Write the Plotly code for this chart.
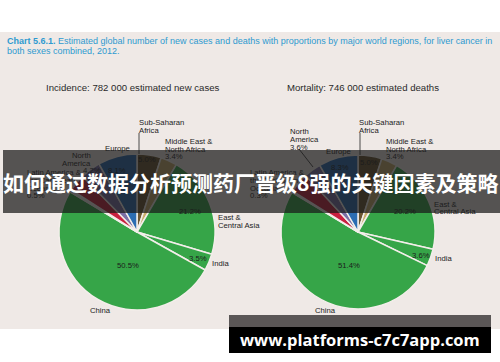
import plotly.graph_objects as go

W, H = 500, 362

# ---- data ----
regions = ["Sub-Saharan Africa", "Middle East & North Africa", "East & Central Asia",
           "India", "China", "Oceania", "Latin America & the Caribbean",
           "North America", "Europe"]
incidence_pct = [5.0, 3.4, 21.2, 3.5, 50.5, 0.5, 3.6, 4.2, 8.1]
mortality_pct = [5.0, 3.4, 20.2, 3.6, 51.4, 0.3, 4.2, 3.6, 8.3]
slice_colors = ["#6b5632", "#c9ae6c", "#36a548", "#36a548", "#36a548",
                "#e9e4e2", "#c8203f", "#7b70a6", "#2c6db2"]
incidence_title = "Incidence: 782 000 estimated new cases"
mortality_title = "Mortality: 746 000 estimated deaths"
caption_bold = "Chart 5.6.1."
caption_rest = " Estimated global number of new cases and deaths with proportions by major world regions, for liver cancer in"
caption_line2 = "both sexes combined, 2012."
banner_text = "如何通过数据分析预测药厂晋级8强的关键因素及策略"
watermark_text = "www.platforms-c7c7app.com"

BG = "#efe9e6"
TXT = "#1c1c1c"
FONT = "Liberation Sans, Arial, sans-serif"


def px(x):
    return x / W


def py(y):
    return 1 - y / H


fig = go.Figure()

def add_pie(values, cx, cy, r):
    fig.add_trace(go.Pie(
        labels=regions, values=values, sort=False, direction="clockwise",
        rotation=0, marker=dict(colors=slice_colors, line=dict(color="#f3eeea", width=1.5)),
        textinfo="none", hoverinfo="label+percent", showlegend=False,
        domain=dict(x=[px(cx - r), px(cx + r)], y=[py(cy + r), py(cy - r)]),
    ))

add_pie(incidence_pct, 137, 232, 78)
add_pie(mortality_pct, 358, 232, 77)

shapes = []
annotations = []

# background panel
shapes.append(dict(type="rect", xref="paper", yref="paper", x0=0, x1=1,
                   y0=py(329), y1=py(32), fillcolor=BG, line=dict(width=0), layer="below"))


def txt(x, y, s, anchor="left", size=7.7, color=TXT, bold=False, family=FONT):
    annotations.append(dict(x=px(x), y=py(y), xref="paper", yref="paper",
                            text=f"<b>{s}</b>" if bold else s, showarrow=False,
                            xanchor=anchor, yanchor="middle",
                            font=dict(size=size, color=color, family=family)))


def lines(x, y0, items, anchor="left", step=8):
    for i, s in enumerate(items):
        txt(x, y0 + i * step, s, anchor)


def pct(v):
    return f"{v:.1f}%"


inc = dict(zip(regions, incidence_pct))
mor = dict(zip(regions, mortality_pct))

# caption
txt(5, 41, f"<b>{caption_bold}</b>{caption_rest}", size=9.0, color="#2e9ad0")
txt(5, 51, caption_line2, size=9.0, color="#2e9ad0")

# titles
txt(133, 87, incidence_title, anchor="center", size=9.6, color="#2a2a2a")
txt(363, 87, mortality_title, anchor="center", size=9.6, color="#2a2a2a")

# ---- left pie labels ----
lines(137, 122, ["Sub-Saharan", "Africa"])
lines(163, 141, ["Middle East &", "North Africa", pct(inc["Middle East & North Africa"])])
txt(117, 148, "Europe", anchor="center")
lines(93, 155, ["North", "America"], anchor="right")
lines(25, 172, ["Latin America &", "the Caribbean", "Oceania", pct(inc["Oceania"])])
txt(147, 159, pct(inc["Sub-Saharan Africa"]), anchor="center")
txt(117, 171, pct(inc["Europe"]), anchor="center")
txt(92, 171, pct(inc["North America"]), anchor="center")
txt(190, 212, pct(inc["East & Central Asia"]), anchor="center")
lines(216, 217, ["East &", "Central Asia"])
txt(198, 258, pct(inc["India"]), anchor="center")
txt(210, 263, "India")
txt(128, 265, pct(inc["China"]), anchor="center")
txt(100, 310, "China", anchor="center")

# ---- right pie labels ----
lines(357, 122, ["Sub-Saharan", "Africa"])
lines(384, 141, ["Middle East &", "North Africa", pct(mor["Middle East & North Africa"])])
txt(338, 151, "Europe", anchor="center")
lines(288, 131, ["North", "America", pct(mor["North America"])])
lines(248, 172, ["Latin America &", "the Caribbean", "Oceania", pct(mor["Oceania"])])
txt(369, 162, pct(mor["Sub-Saharan Africa"]), anchor="center")
txt(340, 168, pct(mor["Europe"]), anchor="center")
txt(405, 211, pct(mor["East & Central Asia"]), anchor="center")
lines(432, 204, ["East &", "Central Asia"])
txt(421, 255, pct(mor["India"]), anchor="center")
txt(433, 258, "India")
txt(349, 265, pct(mor["China"]), anchor="center")
txt(325, 310, "China", anchor="center")

# leader lines
for (x0, y0, x1, y1) in [(139, 133, 139, 154), (360, 133, 360, 155), (299, 149, 313, 167)]:
    shapes.append(dict(type="line", xref="paper", yref="paper", x0=px(x0), y0=py(y0),
                       x1=px(x1), y1=py(y1), line=dict(color="#222", width=0.8), layer="above"))

# banner overlay
shapes.append(dict(type="rect", xref="paper", yref="paper", x0=px(3), x1=1,
                   y0=py(213), y1=py(150), fillcolor="rgba(25,25,25,0.72)",
                   line=dict(width=0), layer="above"))
annotations.append(dict(x=px(250), y=py(182), xref="paper", yref="paper", text=f"<b>{banner_text}</b>",
                        showarrow=False, xanchor="center", yanchor="middle",
                        font=dict(size=21, color="white", family="Noto Sans CJK SC")))

# watermark box
shapes.append(dict(type="rect", xref="paper", yref="paper", x0=px(229), x1=px(491),
                   y0=py(327), y1=py(315), fillcolor="#5b5757", line=dict(width=0), layer="above"))
shapes.append(dict(type="rect", xref="paper", yref="paper", x0=px(229), x1=px(491),
                   y0=py(353), y1=py(327), fillcolor="#000000", line=dict(width=0), layer="above"))
annotations.append(dict(x=px(360), y=py(339), xref="paper", yref="paper", text=f"<b>{watermark_text}</b>",
                        showarrow=False, xanchor="center", yanchor="middle",
                        font=dict(size=16.5, color="white", family="Open Sans")))

fig.update_layout(width=W, height=H, margin=dict(l=0, r=0, t=0, b=0),
                  paper_bgcolor="white", plot_bgcolor="white",
                  shapes=shapes, annotations=annotations)

fig.write_html("out.html", config={"displayModeBar": False},
               post_script="document.body.style.margin='0';")
